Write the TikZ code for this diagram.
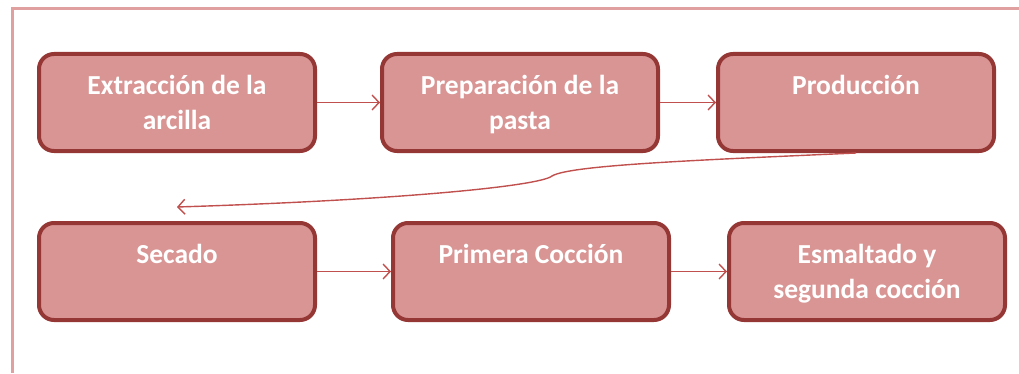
\documentclass[tikz,border=0pt]{standalone}
\usepackage{fontspec}
\setmainfont{Carlito}
\usetikzlibrary{arrows.meta}
\definecolor{boxfill}{HTML}{D99594}
\definecolor{boxline}{HTML}{953735}
\definecolor{arrowred}{HTML}{C0504D}
\definecolor{framepink}{HTML}{DFA09F}
\newcommand{\boxtext}[1]{\parbox[c][97pt][t]{276pt}{\centering\rule{0pt}{40pt}#1}}
\begin{document}
\begin{tikzpicture}[x=1pt, y=1pt, >={Straight Barb[length=7pt,width=15pt]},
  stepbox/.style={draw=boxline, fill=boxfill, line width=4pt, rounded corners=15pt, inner sep=0pt, minimum width=276pt, minimum height=97pt, text=white, font=\bfseries\fontsize{27.5}{35}\selectfont},
  flow/.style={->, draw=arrowred, line width=1.4pt}]
\useasboundingbox (0,0) rectangle (1019,373);

\draw[framepink, line width=3pt] (12,0) -- (12,364.5) -- (1019,364.5);

\node[stepbox] (extr) at (177,270.5) {\boxtext{Extracción de la\\arcilla}};
\node[stepbox] (prep) at (520,270.5) {\boxtext{Preparación de la\\pasta}};
\node[stepbox] (prod) at (856,270.5) {\boxtext{Producción}};
\node[stepbox] (seca) at (177,101.5) {\boxtext{Secado}};
\node[stepbox] (prim) at (531,101.5) {\boxtext{Primera Cocción}};
\node[stepbox] (esma) at (867,101.5) {\boxtext{Esmaltado y\\segunda cocción}};

\coordinate (back) at ([yshift=14pt]seca.north);

\draw[flow] (extr) -- (prep);
\draw[flow] (prep) -- (prod);
\draw[flow] (prod.south) .. controls (700,213) and (570,208) .. (552,197) .. controls (540,187) and (400,173) .. (back);
\draw[flow] (seca) -- (prim);
\draw[flow] (prim) -- (esma);

\end{tikzpicture}
\end{document}
